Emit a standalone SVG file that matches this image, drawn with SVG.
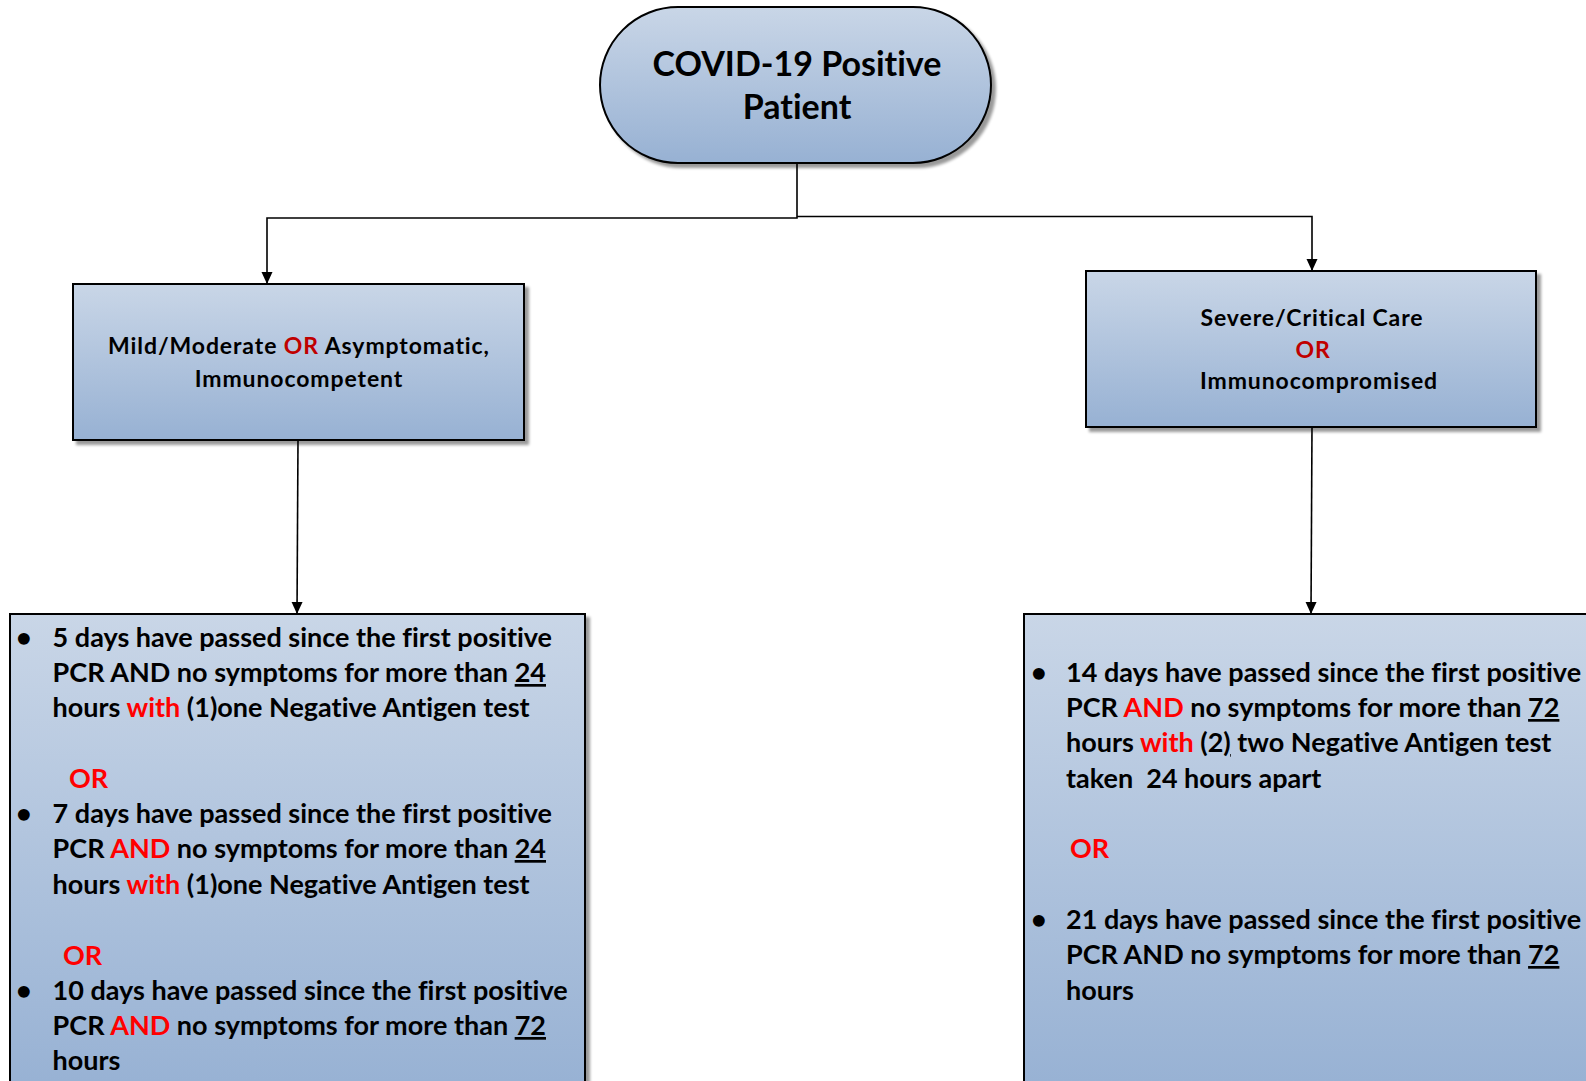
<svg xmlns="http://www.w3.org/2000/svg" width="1586" height="1081" viewBox="0 0 1586 1081">
<style>
text{font-family:Lato,"Open Sans","Liberation Sans",sans-serif;font-weight:bold;fill:#000;font-variant-ligatures:none;font-feature-settings:"liga" 0,"clig" 0}
.title{font-size:34px}
.mid{font-size:23px;letter-spacing:0.9px}
.body{font-size:27px}
.r{fill:#FF0000}
.dr{fill:#C00000}
.u{text-decoration:underline}
.box{fill:url(#g);stroke:#000;stroke-width:2}
.conn{fill:none;stroke:#000;stroke-width:1.6}
</style>
<defs>
<linearGradient id="g" x1="0" y1="0" x2="0" y2="1">
<stop offset="0" stop-color="#C9D6E7"/>
<stop offset="1" stop-color="#97B1D3"/>
</linearGradient>
<linearGradient id="g2" gradientUnits="userSpaceOnUse" x1="0" y1="614" x2="0" y2="1081">
<stop offset="0" stop-color="#C9D6E7"/>
<stop offset="1" stop-color="#98B2D4"/>
</linearGradient>
<filter id="sh" x="-5%" y="-5%" width="115%" height="120%">
<feGaussianBlur in="SourceAlpha" stdDeviation="1.5"/>
<feOffset dx="4" dy="4"/>
<feComponentTransfer><feFuncA type="linear" slope="0.4"/></feComponentTransfer>
<feMerge><feMergeNode/><feMergeNode in="SourceGraphic"/></feMerge>
</filter>
<marker id="arr" markerWidth="12" markerHeight="12" viewBox="0 0 12 12" refX="12" refY="6" orient="auto" markerUnits="userSpaceOnUse">
<path d="M0,0.5 L12,6 L0,11.5 z" fill="#000"/>
</marker>
</defs>
<rect width="1586" height="1081" fill="#fff"/>

<g id="connectors">
<path class="conn" d="M797,163 V218 H267 V284" marker-end="url(#arr)"/>
<path class="conn" d="M797,216.5 H1312 V271" marker-end="url(#arr)"/>
<path class="conn" d="M298,440 L297,614" marker-end="url(#arr)"/>
<path class="conn" d="M1312,427 L1311,614" marker-end="url(#arr)"/>
</g>

<g id="start">
<rect class="box" x="600" y="7" width="391" height="156" rx="78" ry="78" filter="url(#sh)"/>
<text class="title" x="797" y="76" text-anchor="middle">COVID-19 Positive</text>
<text class="title" x="797" y="119" text-anchor="middle">Patient</text>
</g>

<g id="mild">
<rect class="box" x="73" y="284" width="451" height="156" filter="url(#sh)"/>
<text class="mid" x="299" y="354" text-anchor="middle">Mild/Moderate <tspan class="dr">OR</tspan> Asymptomatic,</text>
<text class="mid" x="299" y="387" text-anchor="middle">Immunocompetent</text>
</g>

<g id="severe">
<rect class="box" x="1086" y="271" width="450" height="156" filter="url(#sh)"/>
<text class="mid" x="1312" y="326" text-anchor="middle">Severe/Critical Care</text>
<text class="mid dr" x="1313" y="358" text-anchor="middle">OR</text>
<text class="mid" x="1319" y="389" text-anchor="middle">Immunocompromised</text>
</g>

<g id="mild-criteria">
<rect x="10" y="614" width="575" height="500" fill="url(#g2)" stroke="#000" stroke-width="2" filter="url(#sh)"/>
<text class="body" x="16" y="647">•</text>
<text class="body" x="52.6" y="647">5 days have passed since the first positive</text>
<text class="body" x="52.6" y="682">PCR AND no symptoms for more than <tspan class="u">24</tspan></text>
<text class="body" x="52.6" y="717">hours <tspan class="r">with</tspan> (1)one Negative Antigen test</text>
<text class="body r" x="69" y="788">OR</text>
<text class="body" x="16" y="823">•</text>
<text class="body" x="52.6" y="823">7 days have passed since the first positive</text>
<text class="body" x="52.6" y="858">PCR <tspan class="r">AND</tspan> no symptoms for more than <tspan class="u">24</tspan></text>
<text class="body" x="52.6" y="894">hours <tspan class="r">with</tspan> (1)one Negative Antigen test</text>
<text class="body r" x="63" y="965">OR</text>
<text class="body" x="16" y="1000">•</text>
<text class="body" x="52.6" y="1000">10 days have passed since the first positive</text>
<text class="body" x="52.6" y="1035">PCR <tspan class="r">AND</tspan> no symptoms for more than <tspan class="u">72</tspan></text>
<text class="body" x="52.6" y="1070">hours</text>
</g>

<g id="severe-criteria">
<rect x="1024" y="614" width="600" height="500" fill="url(#g2)" stroke="#000" stroke-width="2"/>
<text class="body" x="1031" y="682">•</text>
<text class="body" x="1066" y="682">14 days have passed since the first positive</text>
<text class="body" x="1066" y="717">PCR <tspan class="r">AND</tspan> no symptoms for more than <tspan class="u">72</tspan></text>
<text class="body" x="1066" y="752">hours <tspan class="r">with</tspan> (2<tspan class="u">)</tspan> two Negative Antigen test</text>
<text class="body" x="1066" y="788" xml:space="preserve">taken  24 hours apart</text>
<text class="body r" x="1070" y="858">OR</text>
<text class="body" x="1031" y="929">•</text>
<text class="body" x="1066" y="929">21 days have passed since the first positive</text>
<text class="body" x="1066" y="964">PCR AND no symptoms for more than <tspan class="u">72</tspan></text>
<text class="body" x="1066" y="1000">hours</text>
</g>
</svg>
